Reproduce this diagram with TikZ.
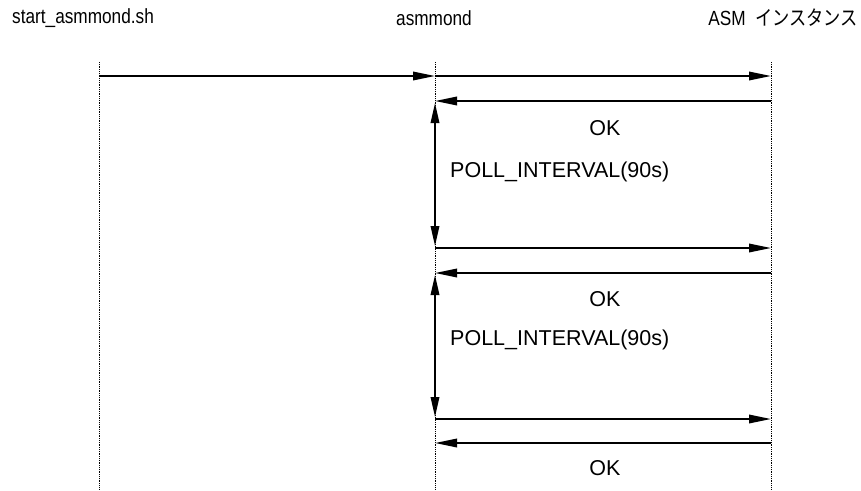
\documentclass[tikz,border=0pt]{standalone}
\usepackage{fontspec}
\setmainfont{Liberation Sans}
\newfontfamily\jpfont{Noto Sans CJK JP}
\usetikzlibrary{arrows.meta}
\newcommand{\narrowtxt}[1]{\scalebox{0.84}[1]{#1}}
\begin{document}
\begin{tikzpicture}[x=1pt,y=-1pt,
  ttl/.style={font=\fontsize{20.5}{24}\selectfont, inner sep=0pt},
  lbl/.style={font=\fontsize{21.5}{25}\selectfont, inner sep=0pt},
  life/.style={densely dotted, line width=0.8pt},
  msg/.style={line width=1.8pt, -{Triangle[length=22pt,width=8.5pt]}},
  dur/.style={line width=1.8pt, {Triangle[length=20pt,width=8.5pt]}-{Triangle[length=20pt,width=8.5pt]}}]
\useasboundingbox (0,0) rectangle (861,490);
\node[ttl, anchor=west] (tA) at (12,18) {\narrowtxt{start\_asmmond.sh}};
\node[ttl] (tB) at (434,18) {\narrowtxt{asmmond}};
\node[ttl, anchor=east] (tC) at (858,18) {\narrowtxt{ASM\ \ {\jpfont インスタンス}}};
\coordinate (a0) at (99,62); \coordinate (a1) at (99,490);
\coordinate (b0) at (435,62); \coordinate (b1) at (435,490);
\coordinate (c0) at (771,62); \coordinate (c1) at (771,490);
\draw[life] (a0) -- (a1);
\draw[life] (b0) -- (b1);
\draw[life] (c0) -- (c1);
% messages
\coordinate (m1a) at (99,76); \coordinate (m1b) at (435,76); \coordinate (m1c) at (771,76);
\draw[msg] (m1a) -- (m1b);
\draw[msg] (m1b) -- (m1c);
\coordinate (r1c) at (771,101); \coordinate (r1b) at (435,101);
\draw[msg] (r1c) -- (r1b);
\node[lbl] (ok1) at (605,128) {OK};
\coordinate (d1a) at (435,103); \coordinate (d1b) at (435,246);
\draw[dur] (d1a) -- (d1b);
\node[lbl, anchor=west] (p1) at (450,172) {POLL\_INTERVAL(90s)};
\coordinate (m2b) at (435,248); \coordinate (m2c) at (771,248);
\draw[msg] (m2b) -- (m2c);
\coordinate (r2c) at (771,273); \coordinate (r2b) at (435,273);
\draw[msg] (r2c) -- (r2b);
\node[lbl] (ok2) at (605,299) {OK};
\coordinate (d2a) at (435,275); \coordinate (d2b) at (435,417);
\draw[dur] (d2a) -- (d2b);
\node[lbl, anchor=west] (p2) at (450,340) {POLL\_INTERVAL(90s)};
\coordinate (m3b) at (435,419); \coordinate (m3c) at (771,419);
\draw[msg] (m3b) -- (m3c);
\coordinate (r3c) at (771,443); \coordinate (r3b) at (435,443);
\draw[msg] (r3c) -- (r3b);
\node[lbl] (ok3) at (605,468) {OK};
\end{tikzpicture}
\end{document}
